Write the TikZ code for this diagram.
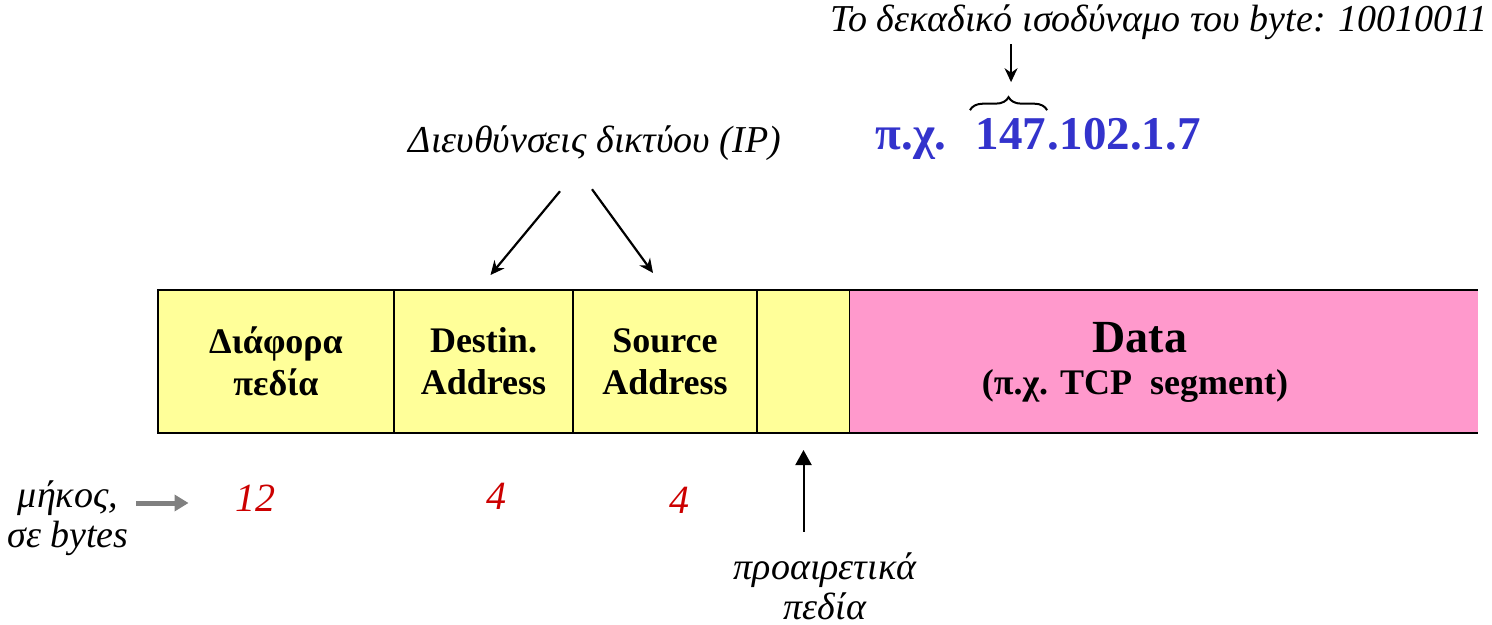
\documentclass[tikz,border=0pt]{standalone}
\usepackage{fontspec}
\setmainfont{Liberation Serif}
\usetikzlibrary{arrows.meta,calc,positioning,decorations.pathreplacing}

\definecolor{fieldyellow}{RGB}{255,255,153}
\definecolor{datapink}{RGB}{255,153,204}
\definecolor{ipblue}{RGB}{51,51,204}
\definecolor{lenred}{RGB}{204,0,0}

\tikzset{
  field/.style={draw, line width=1.2pt, fill=fieldyellow, minimum height=71.5pt, inner sep=0pt, outer sep=0pt, align=center, font=\fontsize{18}{21}\selectfont\bfseries},
  note/.style={align=center, inner sep=2pt, font=\fontsize{19}{20}\selectfont\itshape},
  len/.style={text=lenred, font=\fontsize{20}{22}\selectfont\itshape},
  ipnum/.style={text=ipblue, inner sep=0pt, font=\fontsize{23.5}{26}\selectfont\bfseries},
  ptr/.style={->, line width=1.1pt},
  lenarrow/.style={draw=gray, line width=2.5pt, -{Triangle[length=7pt,width=8pt]}},
}

\begin{document}
\begin{tikzpicture}[x=0.5pt, y=-0.5pt, >={Stealth[length=7pt,width=6.5pt]}, line width=0.8pt]
  \useasboundingbox (0,0) rectangle (1492,625);

  % the IP packet
  \node[field, minimum width=118pt]                        (misc) at (276,361.5) {Διάφορα\\πεδία};
  \node[field, minimum width=89.5pt, right=0pt of misc]    (dest) {Destin.\\Address};
  \node[field, minimum width=92pt, right=0pt of dest]      (src)  {Source\\Address};
  \node[field, minimum width=46.5pt, right=0pt of src]     (opt)  {};
  \node[field, draw=none, fill=datapink, minimum width=314pt, right=0pt of opt] (data) {};
  \draw[line width=1.2pt] (data.north west) -- (data.north east)
                          (data.south west) -- (data.south east);
  \node[font=\fontsize{23}{26}\selectfont\bfseries] (datahead) at (1140,338) {Data};
  \node[font=\fontsize{18}{21}\selectfont\bfseries] (datasub)  at (1135,386) {(π.χ. TCP\ \ segment)};

  % addresses
  \node[note] (ip) at (595,143) {Διευθύνσεις δικτύου (IP)};
  \draw[ptr] ([xshift=-17.5pt,yshift=-13pt]ip.south) -- ([xshift=3.5pt,yshift=7.5pt]dest.north);
  \draw[ptr] ([xshift=-1.5pt,yshift=-12pt]ip.south)  -- ([xshift=-6pt,yshift=8.5pt]src.north);

  % example address
  \node[note] (byte) at (1159,22) {Το δεκαδικό ισοδύναμο του byte: 10010011};
  \node[ipnum, anchor=base]      (eg)   at (911,150) {π.χ.};
  \node[ipnum, anchor=base west] (b1)   at (975,150) {147};
  \node[ipnum, anchor=base west] (rest) at (b1.base east) {.102.1.7};
  \draw[decorate, decoration={brace, amplitude=6.5pt}, line width=1pt]
        ([xshift=-2.5pt,yshift=4pt]b1.north west) -- ([yshift=4pt]b1.north east);
  \coordinate (tip) at ([yshift=18pt]b1.north);
  \draw[->, line width=0.9pt] (byte.south -| tip) -- (tip);

  % lengths
  \node[note] (unit) at (68,518) {μήκος,\\σε bytes};
  \node[len] (n12)  at (255,498) {12};
  \node[len] (n4a)  at (496,496) {4};
  \node[len] (n4b)  at (679,500) {4};
  \draw[lenarrow, shorten <=1.5pt, shorten >=19.5pt] ([yshift=-2.5pt]unit.east |- n12.west) -- ([yshift=-2.5pt]n12.west);

  % options
  \node[note] (optnote) at (825,586) {προαιρετικά\\πεδία};
  \draw[line width=1pt, shorten <=8pt, -{Triangle[length=7.5pt,width=8pt]}] (optnote.north -| opt.south) -- ([yshift=-8.5pt]opt.south);
\end{tikzpicture}
\end{document}
